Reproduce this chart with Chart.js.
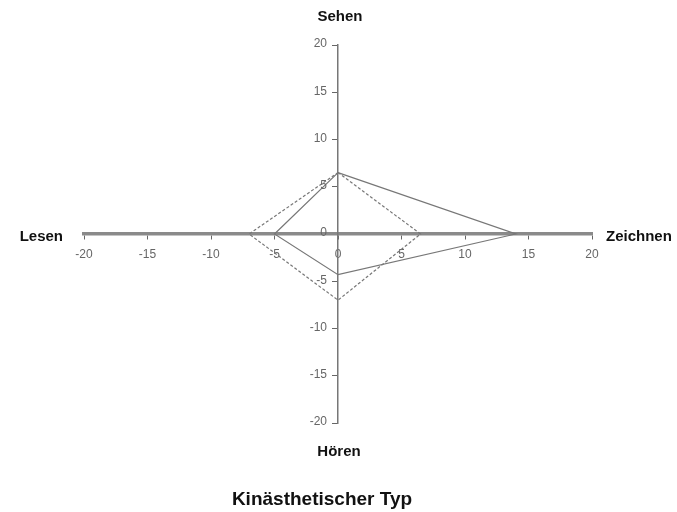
<!DOCTYPE html>
<html>
<head>
<meta charset="utf-8">
<script src="https://cdn.jsdelivr.net/npm/chart.js@4/dist/chart.umd.min.js"></script>
<style>
html,body{margin:0;padding:0;background:#fff;}
#wrap{width:677px;height:512px;position:relative;}
</style>
</head>
<body>
<div id="wrap"><canvas id="c" width="677" height="512"></canvas></div>
<script>
// Axis categories (direction labels)
const axisNames = { top: 'Sehen', right: 'Zeichnen', bottom: 'Hören', left: 'Lesen' };
const chartTitle = 'Kinästhetischer Typ';
// Values per direction: [Sehen, Zeichnen, Hören, Lesen]
const dashedSeries = [6.5, 6.5, 7, 7];
const solidSeries = [6.5, 14, 4.3, 5];
const tickValues = [-20, -15, -10, -5, 0, 5, 10, 15, 20];

const FONT = '"Liberation Sans", Arial, sans-serif';

function diamond(v) {
  return [
    { x: 0, y: v[0] },
    { x: v[1], y: 0 },
    { x: 0, y: -v[2] },
    { x: -v[3], y: 0 },
    { x: 0, y: v[0] }
  ];
}

const labelPlugin = {
  id: 'dirLabels',
  afterDraw(chart) {
    const ctx = chart.ctx;
    const xs = chart.scales.x, ys = chart.scales.y;
    const cx = xs.getPixelForValue(0), cy = ys.getPixelForValue(0);
    ctx.save();
    // y tick labels, right-aligned to the left of the vertical axis
    ctx.fillStyle = '#666';
    ctx.font = '12px ' + FONT;
    ctx.textAlign = 'right';
    ctx.textBaseline = 'middle';
    ys.ticks.forEach(t => {
      ctx.fillText(String(t.value), cx - 11, ys.getPixelForValue(t.value) - 1);
    });
    // direction labels
    ctx.fillStyle = '#111';
    ctx.font = 'bold 15px ' + FONT;
    ctx.textAlign = 'center';
    ctx.fillText(axisNames.top, cx + 2, 17);
    ctx.fillText(axisNames.bottom, cx + 1, 452);
    ctx.textAlign = 'left';
    ctx.fillText(axisNames.right, xs.getPixelForValue(20) + 14, cy + 3);
    ctx.textAlign = 'right';
    ctx.fillText(axisNames.left, xs.getPixelForValue(-20) - 21, cy + 3);
    // title
    ctx.textAlign = 'center';
    ctx.font = 'bold 19px ' + FONT;
    ctx.fillText(chartTitle, cx - 16, 500);
    ctx.restore();
  }
};

new Chart(document.getElementById('c'), {
  type: 'scatter',
  data: {
    datasets: [
      {
        label: 'gestrichelt',
        data: diamond(dashedSeries),
        showLine: true,
        borderColor: '#777',
        borderWidth: 1.2,
        borderDash: [3, 2],
        pointRadius: 0,
        fill: false,
        tension: 0
      },
      {
        label: 'Kinästhetischer Typ',
        data: diamond(solidSeries),
        showLine: true,
        borderColor: '#777',
        borderWidth: 1.2,
        pointRadius: 0,
        fill: false,
        tension: 0
      }
    ]
  },
  options: {
    responsive: false,
    animation: false,
    layout: { padding: { left: 84, right: 85, top: 45, bottom: 89 } },
    plugins: { legend: { display: false }, tooltip: { enabled: false }, title: { display: false } },
    scales: {
      x: {
        type: 'linear',
        min: -20, max: 20,
        position: { y: 0 },
        afterBuildTicks(s) { s.ticks = tickValues.map(v => ({ value: v })); },
        grid: { drawOnChartArea: false, drawTicks: true, tickLength: 4, color: '#666', lineWidth: 1 },
        border: { display: true, color: '#8a8a8a', width: 3.5 },
        ticks: { color: '#666', padding: 9, font: { family: FONT, size: 12 } }
      },
      y: {
        type: 'linear',
        min: -20, max: 20,
        position: { x: 0 },
        afterBuildTicks(s) { s.ticks = tickValues.map(v => ({ value: v })); },
        grid: { drawOnChartArea: false, drawTicks: true, tickLength: 5, color: '#666', lineWidth: 1 },
        border: { display: true, color: '#777', width: 1.5 },
        ticks: { display: false, font: { family: FONT, size: 12 } }
      }
    }
  },
  plugins: [labelPlugin]
});
</script>
</body>
</html>
